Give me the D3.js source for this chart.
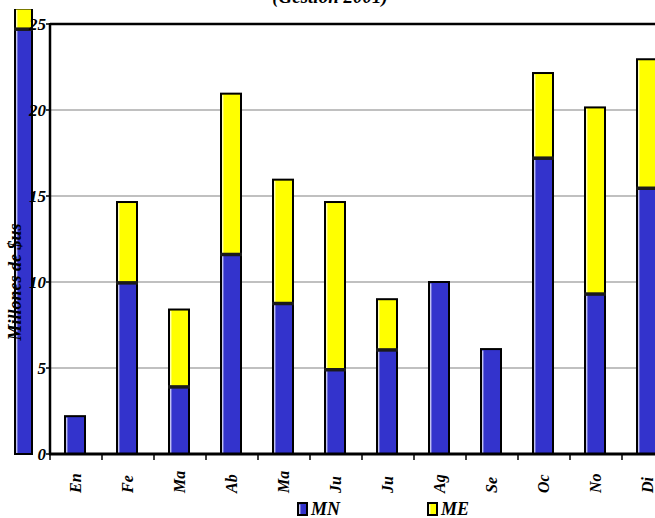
<!DOCTYPE html>
<html>
<head>
<meta charset="utf-8">
<script src="https://cdn.jsdelivr.net/npm/d3@7"></script>
<style>
  html, body { margin: 0; padding: 0; background: #fff; }
  svg { display: block; }
  text { font-family: "Liberation Serif", "Times New Roman", serif; font-weight: bold; font-style: italic; }
</style>
</head>
<body>
<svg id="chart" width="655" height="518"></svg>
<script>
// ---- data ----
const months = ["En", "Fe", "Ma", "Ab", "Ma", "Ju", "Ju", "Ag", "Se", "Oc", "No", "Di"];
const mnValues = [2.2, 9.95, 3.9, 11.6, 8.75, 4.9, 6.05, 10.0, 6.1, 17.2, 9.3, 15.45];
const meValues = [0, 4.7, 4.5, 9.35, 7.2, 9.75, 2.95, 0, 0, 4.95, 10.85, 7.5];
// partially visible bar at the far left (clipped in the original)
const strayMN = [24.7];
const strayME = [1.2];
const yTicks = [0, 5, 10, 15, 20, 25];
const seriesNames = ["MN", "ME"];
const seriesColors = ["#3333CC", "#FFFF00"];
const titleText = "(Gestion 2001)";
const yLabelText = "Millones de $us";

// ---- layout ----
const svg = d3.select("#chart");
const plotLeft = 50, plotRight = 674, plotTop = 24, plotBottom = 454;

const y = d3.scaleLinear().domain([0, 25]).range([plotBottom, plotTop]);
const x = d3.scaleBand().domain(d3.range(-1, months.length)).range([plotLeft - 52, plotRight]).padding(0);
const barW = 20;

// gridlines
svg.append("g").selectAll("line").data(yTicks.filter(t => t > 0 && t < 25)).join("line")
  .attr("x1", plotLeft).attr("x2", 655)
  .attr("y1", d => y(d)).attr("y2", d => y(d))
  .attr("stroke", "#c0c0c0").attr("stroke-width", 2);
// top border line (at 25)
svg.append("line").attr("x1", plotLeft).attr("x2", 655)
  .attr("y1", y(25)).attr("y2", y(25)).attr("stroke", "#000").attr("stroke-width", 2.5);

function drawBar(g, cx, mn, me, w) {
  const x0 = cx - w / 2;
  const segs = [];
  if (mn > 0) segs.push({ y0: 0, y1: mn, c: seriesColors[0] });
  if (me > 0) segs.push({ y0: mn, y1: mn + me, c: seriesColors[1] });
  segs.forEach(s => {
    g.append("rect").attr("x", x0).attr("y", y(s.y1)).attr("width", w)
      .attr("height", y(s.y0) - y(s.y1)).attr("fill", s.c)
      .attr("stroke", "#000").attr("stroke-width", 2);
    g.append("line").attr("x1", x0 + 1.8).attr("x2", x0 + 1.8)
      .attr("y1", y(s.y1) + 1.5).attr("y2", y(s.y0) - 1)
      .attr("stroke", "#fff").attr("stroke-width", 1);
  });
  if (me > 0 && mn > 0) {
    g.append("line").attr("x1", x0 - 1).attr("x2", x0 + w + 1)
      .attr("y1", y(mn)).attr("y2", y(mn))
      .attr("stroke", "#1a1a1a").attr("stroke-width", 3.5);
  }
}

// stray clipped bar
svg.append("clipPath").attr("id", "strayClip").append("rect")
  .attr("x", 0).attr("y", 9).attr("width", 50).attr("height", 460);
const gs = svg.append("g").attr("clip-path", "url(#strayClip)");
strayMN.forEach((v, i) => drawBar(gs, x(-1) + x.bandwidth() / 2 - 0.5, v, strayME[i], 17));

// bars
const gb = svg.append("g");
months.forEach((m, i) => drawBar(gb, x(i) + x.bandwidth() / 2 - 1, mnValues[i], meValues[i], barW));

// y axis
svg.append("line").attr("x1", plotLeft).attr("x2", plotLeft)
  .attr("y1", plotTop - 1).attr("y2", plotBottom + 1).attr("stroke", "#000").attr("stroke-width", 2.5);
svg.append("g").selectAll("line").data(yTicks).join("line")
  .attr("x1", plotLeft - 4).attr("x2", plotLeft)
  .attr("y1", d => y(d)).attr("y2", d => y(d))
  .attr("stroke", "#000").attr("stroke-width", 1.5);
svg.append("g").selectAll("text").data(yTicks).join("text")
  .attr("x", plotLeft - 4).attr("y", d => y(d)).attr("dy", "0.36em")
  .attr("text-anchor", "end").attr("font-size", 17).attr("fill", "#000")
  .text(d => d);

// x axis
svg.append("line").attr("x1", plotLeft - 1).attr("x2", 655)
  .attr("y1", plotBottom).attr("y2", plotBottom).attr("stroke", "#000").attr("stroke-width", 3);
svg.append("g").selectAll("line").data(d3.range(0, months.length + 1)).join("line")
  .attr("x1", d => plotLeft + d * x.bandwidth()).attr("x2", d => plotLeft + d * x.bandwidth())
  .attr("y1", plotBottom).attr("y2", plotBottom + 6)
  .attr("stroke", "#000").attr("stroke-width", 1.5);
svg.append("g").selectAll("text").data(months).join("text")
  .attr("transform", (d, i) => `translate(${x(i) + x.bandwidth() / 2 + 5},493) rotate(-90)`)
  .attr("text-anchor", "start").attr("font-size", 16).attr("fill", "#000")
  .text(d => d);

// y label
svg.append("text")
  .attr("transform", "translate(21,282) rotate(-90)")
  .attr("text-anchor", "middle").attr("font-size", 18).attr("fill", "#000")
  .text(yLabelText);

// title
svg.append("text").attr("x", 330).attr("y", 3).attr("text-anchor", "middle")
  .attr("font-size", 19).attr("fill", "#000").text(titleText);

// legend
const legX = [298, 428];
seriesNames.forEach((n, i) => {
  const g = svg.append("g");
  g.append("rect").attr("x", legX[i]).attr("y", 503).attr("width", 9).attr("height", 12)
    .attr("fill", seriesColors[i]).attr("stroke", "#000").attr("stroke-width", 2);
  g.append("line").attr("x1", legX[i] + 1.8).attr("x2", legX[i] + 1.8).attr("y1", 504.5).attr("y2", 514)
    .attr("stroke", "#fff").attr("stroke-width", 1);
  g.append("text").attr("x", legX[i] + 13).attr("y", 515).attr("font-size", 18).attr("fill", "#000").text(n);
});
</script>
</body>
</html>
